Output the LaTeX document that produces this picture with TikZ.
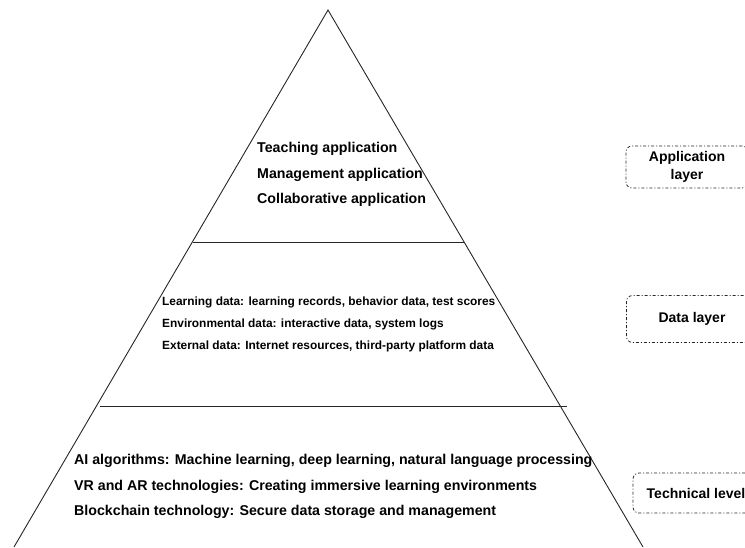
\documentclass[tikz,border=0pt]{standalone}
\usepackage{fontspec}
\setmainfont{Liberation Sans}
\usetikzlibrary{positioning}

\begin{document}
\begin{tikzpicture}[x=1pt,y=-1pt,
  edge/.style={draw=black!85,line width=0.9pt},
  layerbox/.style={draw=black!85,line width=0.8pt,rounded corners=6pt,
    dash pattern=on 3pt off 2pt on 1pt off 2pt,align=center,
    font=\bfseries\fontsize{14}{18}\selectfont},
  bigitem/.style={anchor=west,inner sep=0pt,font=\bfseries\fontsize{14.2}{16}\selectfont},
  smallitem/.style={anchor=west,inner sep=0pt,font=\bfseries\fontsize{11.9}{14}\selectfont}]
 \useasboundingbox (0,0) rectangle (745,547);
 % pyramid
 \draw[edge] (14,547)--(328,10)--(643,547);
 \draw[edge] (193,242)--(465,242);
 \draw[edge] (100,406)--(567,406);
 % application layer
 \node[bigitem] (teach) at (257,149) {Teaching application};
 \node[bigitem] (manage) at (257,175) {Management application};
 \node[bigitem] (collab) at (257,200) {Collaborative application};
 % data layer
 \node[smallitem] (learndata) at (162,302) {Learning data: learning records, behavior data, test scores};
 \node[smallitem] (envdata) at (162,324) {Environmental data: interactive data, system logs};
 \node[smallitem] (extdata) at (162,346) {External data: Internet resources, third-party platform data};
 % technical level
 \node[bigitem] (aialg) at (74,461) {AI algorithms: Machine learning, deep learning, natural language processing};
 \node[bigitem] (vrar) at (74,487) {VR and AR technologies: Creating immersive learning environments};
 \node[bigitem] (chain) at (74,512) {Blockchain technology: Secure data storage and management};
 % labels on the right
 \node[layerbox,minimum width=122pt,minimum height=42pt] (applayer) at (687,167) {Application\\layer};
 \node[layerbox,minimum width=131pt,minimum height=47pt] (datalayer) at (692,319) {Data layer};
 \node[layerbox,minimum width=126pt,minimum height=40pt] (techlevel) at (696,493) {Technical level};
\end{tikzpicture}
\end{document}
